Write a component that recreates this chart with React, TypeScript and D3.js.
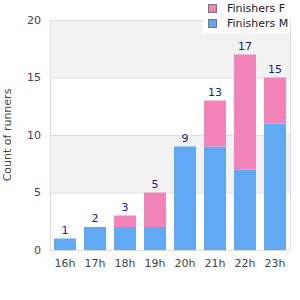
import React, { useRef, useEffect } from "react";
import * as d3 from "d3";

const hours = ["16h", "17h", "18h", "19h", "20h", "21h", "22h", "23h"];
const finishersM = [1, 2, 2, 2, 9, 9, 7, 11];
const finishersF = [0, 0, 1, 3, 0, 4, 10, 4];
const yTicks = [0, 5, 10, 15, 20];

const App = () => {
  const ref = useRef<SVGSVGElement>(null);

  useEffect(() => {
    const svg = d3.select(ref.current);
    svg.selectAll("*").remove();

    const left = 50, right = 290, top = 20, bottom = 250;
    const font = "DejaVu Sans, Verdana, sans-serif";

    const x = d3.scaleBand().domain(hours).range([left, right]).paddingInner(8 / 30).paddingOuter(4 / 30);
    const y = d3.scaleLinear().domain([0, 20]).range([bottom, top]);

    // alternating bands
    for (let i = 0; i < yTicks.length - 1; i++) {
      svg.append("rect")
        .attr("x", left).attr("y", y(yTicks[i + 1]))
        .attr("width", right - left).attr("height", y(yTicks[i]) - y(yTicks[i + 1]))
        .attr("fill", i % 2 === 1 ? "#f2f2f2" : "#ffffff");
    }
    svg.append("g").selectAll("line").data(yTicks).enter().append("line")
      .attr("x1", left).attr("x2", right)
      .attr("y1", (d) => y(d) + 0.5).attr("y2", (d) => y(d) + 0.5)
      .attr("stroke", "#dddddd");
    svg.append("line").attr("x1", left + 0.5).attr("x2", left + 0.5).attr("y1", top).attr("y2", bottom)
      .attr("stroke", "#dddddd");
    svg.append("line").attr("x1", right + 0.5).attr("x2", right + 0.5).attr("y1", top).attr("y2", bottom)
      .attr("stroke", "#dddddd");

    const rows = hours.map((h, i) => ({ h, M: finishersM[i], F: finishersF[i] }));
    const stacked = d3.stack<any>().keys(["M", "F"])(rows);
    const color: Record<string, string> = { M: "#61a9f3", F: "#f283b9" };

    svg.selectAll(".layer").data(stacked).enter().append("g")
      .attr("fill", (d) => color[d.key])
      .selectAll("rect").data((d) => d).enter().append("rect")
      .attr("x", (d) => x(d.data.h)!)
      .attr("width", x.bandwidth())
      .attr("y", (d) => y(d[1]))
      .attr("height", (d) => y(d[0]) - y(d[1]));

    // totals
    svg.selectAll(".total").data(rows).enter().append("text")
      .attr("x", (d) => x(d.h)! + x.bandwidth() / 2)
      .attr("y", (d) => y(d.M + d.F) - 5)
      .attr("text-anchor", "middle")
      .attr("font-family", font).attr("font-size", 11)
      .attr("fill", "#1c1c8c")
      .text((d) => d.M + d.F);

    // y tick labels
    svg.selectAll(".yt").data(yTicks).enter().append("text")
      .attr("x", left - 9).attr("y", (d) => y(d)).attr("dy", "0.35em")
      .attr("text-anchor", "end")
      .attr("font-family", font).attr("font-size", 11).attr("fill", "#444")
      .text((d) => d);

    // x tick labels
    svg.selectAll(".xt").data(hours).enter().append("text")
      .attr("x", (d) => x(d)! + x.bandwidth() / 2).attr("y", bottom + 13).attr("dy", "0.35em")
      .attr("text-anchor", "middle")
      .attr("font-family", font).attr("font-size", 11).attr("fill", "#444")
      .text((d) => d);

    svg.append("text")
      .attr("transform", `translate(7, ${(top + bottom) / 2}) rotate(-90)`)
      .attr("text-anchor", "middle").attr("dy", "0.35em")
      .attr("font-family", font).attr("font-size", 11).attr("fill", "#444")
      .text("Count of runners");

    // legend
    const legend = [{ key: "F", label: "Finishers F" }, { key: "M", label: "Finishers M" }];
    svg.append("rect").attr("x", 202).attr("y", 0).attr("width", 88).attr("height", 33).attr("fill", "#fff");
    const lg = svg.selectAll(".lg").data(legend).enter().append("g")
      .attr("transform", (_, i) => `translate(208, ${4 + i * 15})`);
    lg.append("rect").attr("x", 0.5).attr("y", 0.5).attr("width", 8).attr("height", 8)
      .attr("fill", (d) => color[d.key]).attr("stroke", "#777");
    lg.append("text").attr("x", 19).attr("y", 4.5).attr("dy", "0.35em")
      .attr("font-family", font).attr("font-size", 11).attr("fill", "#222")
      .text((d) => d.label);
  }, []);

  return <svg ref={ref} width={300} height={300} style={{ position: "absolute", left: 0, top: 0 }} />;
};

export default App;
